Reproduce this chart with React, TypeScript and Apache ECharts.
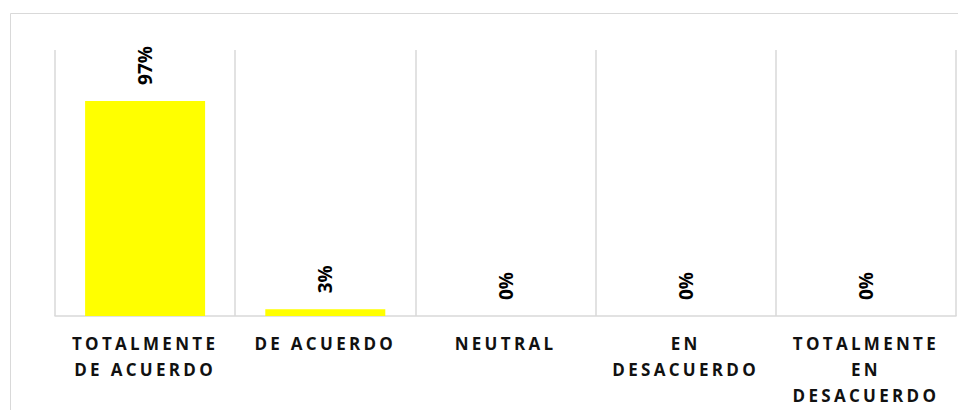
import React, { useEffect, useRef } from "react";
import * as echarts from "echarts";

const categories: string[] = [
  "TOTALMENTE\nDE ACUERDO",
  "DE ACUERDO",
  "NEUTRAL",
  "EN\nDESACUERDO",
  "TOTALMENTE\nEN\nDESACUERDO",
];
const values: number[] = [0.97, 0.03, 0, 0, 0];

export default function App() {
  const ref = useRef<HTMLDivElement>(null);
  useEffect(() => {
    if (!ref.current) return;
    const chart = echarts.init(ref.current, null, { renderer: "svg" });
    chart.setOption({
      animation: false,
      backgroundColor: "#ffffff",
      graphic: [
        {
          type: "rect",
          shape: { x: 10.5, y: 13.5, width: 980, height: 420 },
          style: { fill: "none", stroke: "#d9d9d9", lineWidth: 1 },
          silent: true,
        },
      ],
      grid: { left: 55, right: 2, top: 50, bottom: 94, containLabel: false },
      xAxis: {
        type: "category",
        data: categories,
        boundaryGap: true,
        axisLine: { show: true, lineStyle: { color: "#d9d9d9", width: 1.5 } },
        axisTick: { show: false },
        splitLine: { show: true, lineStyle: { color: "#d9d9d9", width: 1.5 } },
        axisLabel: {
          interval: 0,
          margin: 14,
          fontFamily: "Open Sans",
          fontWeight: "bold",
          fontSize: 17,
          lineHeight: 26,
          color: "#111111",
        },
      },
      yAxis: {
        type: "value",
        min: 0,
        max: 1.2,
        show: false,
        splitLine: { show: false },
      },
      series: [
        {
          type: "bar",
          data: values,
          barWidth: 120,
          itemStyle: { color: "#ffff00" },
          label: {
            show: true,
            position: "top",
            distance: 16,
            rotate: 90,
            align: "left",
            verticalAlign: "middle",
            fontFamily: "Open Sans",
            fontWeight: "bold",
            fontSize: 19,
            color: "#000000",
            formatter: (p: any) => Math.round(p.value * 100) + "%",
          },
        },
      ],
    });
    return () => chart.dispose();
  }, []);
  return (
    <>
      <style>{`#root svg text[style*="17px"] { letter-spacing: 3.3px; }`}</style>
      <div
        ref={ref}
        style={{ position: "absolute", left: 0, top: 0, width: 958, height: 410 }}
      />
    </>
  );
}
